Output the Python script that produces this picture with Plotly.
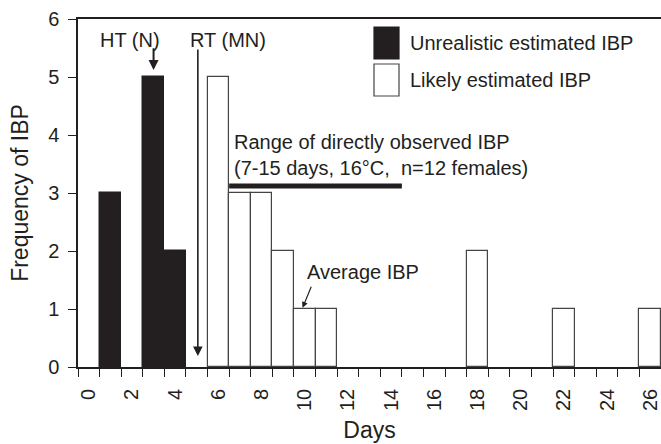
import plotly.graph_objects as go

# ---- data ----
unrealistic_days = [1, 3, 4]
unrealistic_counts = [3, 5, 2]
likely_days = [6, 7, 8, 9, 10, 11, 18, 22, 26]
likely_counts = [5, 3, 3, 2, 1, 1, 2, 1, 1]
observed_range = [7, 15]          # directly observed IBP range (days)
observed_range_level = 3.12
tick_days = list(range(0, 27, 2))
boundary_days = list(range(0, 28))
series_names = ["Unrealistic estimated IBP", "Likely estimated IBP"]

FONT = "Arial, Liberation Sans, Helvetica, sans-serif"
INK = "#231f20"
fills = [INK, "white"]
edges = [INK, "#444444"]

fig = go.Figure()
fig.add_trace(go.Bar(
    x=unrealistic_days, y=unrealistic_counts, width=1, offset=0,
    name=series_names[0], showlegend=False,
    marker=dict(color=fills[0], line=dict(color=edges[0], width=1.5)),
))
fig.add_trace(go.Bar(
    x=likely_days, y=likely_counts, width=1, offset=0,
    name=series_names[1], showlegend=False,
    marker=dict(color=fills[1], line=dict(color=edges[1], width=1.2)),
))
fig.add_trace(go.Scatter(
    x=observed_range, y=[observed_range_level] * 2, mode="lines",
    line=dict(color=INK, width=5), showlegend=False, hoverinfo="skip",
))

ann_font = dict(family=FONT, size=20, color=INK)
fig.add_annotation(x=2.4, y=5.64, text="HT (N)", showarrow=False, font=ann_font)
fig.add_annotation(x=3.5, y=5.12, ax=3.5, ay=5.52, axref="x", ayref="y", text="",
                   showarrow=True, arrowhead=2, arrowsize=1, arrowwidth=2, arrowcolor=INK)
fig.add_annotation(x=6.95, y=5.64, text="RT (MN)", showarrow=False, font=ann_font)
fig.add_annotation(x=5.55, y=0.19, ax=5.55, ay=5.5, axref="x", ayref="y", text="",
                   showarrow=True, arrowhead=2, arrowsize=1.2, arrowwidth=1.6, arrowcolor=INK)
fig.add_annotation(x=7.15, y=3.66, xanchor="left", align="left", showarrow=False,
                   text="Range of directly observed IBP<br>(7-15 days, 16°C,  n=12 females)",
                   font=ann_font)
fig.add_annotation(x=13.2, y=1.64, text="Average IBP", showarrow=False, font=ann_font)
fig.add_annotation(x=10.4, y=1.02, ax=10.83, ay=1.41, axref="x", ayref="y", text="",
                   showarrow=True, arrowhead=2, arrowsize=1, arrowwidth=1.2, arrowcolor=INK)

# ---- legend (large swatches, as in the reference) ----
plot_w, plot_h = 583, 348
sw_x0, sw_w, sw_h = 296, 25, 32          # pixel offsets inside plot area
for i, name in enumerate(series_names):
    top = 8 + i * 37
    fig.add_shape(type="rect", xref="paper", yref="paper",
                  x0=sw_x0 / plot_w, x1=(sw_x0 + sw_w) / plot_w,
                  y0=1 - (top + sw_h) / plot_h, y1=1 - top / plot_h,
                  fillcolor=fills[i], line=dict(color=edges[i], width=1.2))
    fig.add_annotation(xref="paper", yref="paper", x=(sw_x0 + sw_w + 9) / plot_w,
                       y=1 - (top + sw_h / 2) / plot_h, xanchor="left", yanchor="middle",
                       text=name, showarrow=False, font=ann_font)

fig.update_layout(
    width=661, height=444,
    margin=dict(l=78, r=0, t=19, b=77),
    paper_bgcolor="white", plot_bgcolor="white",
    font=dict(family=FONT, size=20, color=INK),
    barmode="overlay", bargap=0, showlegend=False,
    xaxis=dict(
        range=[0, 27], showgrid=False, zeroline=False, automargin=False,
        showline=True, linecolor=INK, linewidth=1.5, mirror=True,
        tickvals=[d + 0.5 for d in tick_days], ticktext=[str(d) for d in tick_days],
        ticks="", tickangle=-90, tickfont=dict(size=20), ticklabelstandoff=12,
        minor=dict(tickvals=boundary_days, ticks="outside", ticklen=8,
                   tickwidth=1.2, tickcolor=INK, showgrid=False),
        title=dict(text="Days", font=dict(size=23), standoff=12),
    ),
    yaxis=dict(
        range=[0, 6], showgrid=False, zeroline=False, automargin=False,
        showline=True, linecolor=INK, linewidth=1.5,
        tickvals=[0, 1, 2, 3, 4, 5, 6], ticks="outside", ticklen=8,
        tickwidth=1.2, tickcolor=INK, tickfont=dict(size=20), ticklabelstandoff=5,
        title=dict(text="Frequency of IBP", font=dict(size=23), standoff=13),
    ),
)

fig.write_html(
    "out.html",
    config={"displayModeBar": False},
    post_script="document.body.style.margin='0';document.body.style.overflow='hidden';",
)
